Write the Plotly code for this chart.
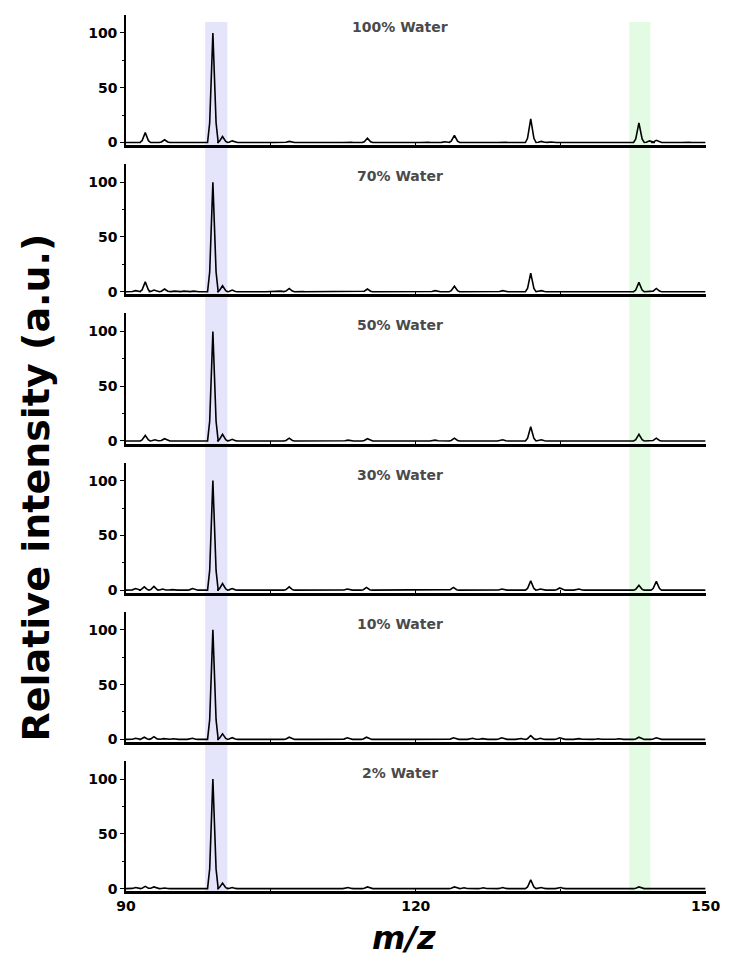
import plotly.graph_objects as go

# m/z window and sample conditions
MZ_RANGE = [90, 150]
panel_labels = ["100% Water", "70% Water", "50% Water", "30% Water", "10% Water", "2% Water"]

# Peak lists (centroid m/z, relative intensity) for each water content
mz_100 = [91.0, 92.0, 94.0, 99.0, 100.0, 101.0, 105.9, 106.9, 113.0, 114.0, 115.0, 121.0, 122.0,
          123.0, 124.0, 129.0, 131.9, 133.0, 134.0, 143.1, 144.2, 144.9, 148.0]
int_100 = [0.5, 9, 2.5, 100, 5.5, 1.5, 0.4, 1, 0.5, 0.5, 4, 0.5, 0.5,
           0.7, 6.5, 0.5, 21.5, 1, 0.5, 18, 1.5, 2, 0.5]

mz_70 = [91.0, 92.0, 92.9, 94.0, 95.0, 96.0, 97.0, 99.0, 100.0, 101.0, 103.0, 105.0, 106.0, 106.9,
         108.0, 109.0, 111.0, 113.0, 114.0, 115.0, 116.0, 117.0, 122.0, 124.0, 129.0, 131.9,
         133.0, 143.1, 144.9, 148.0]
int_70 = [1, 9, 1.5, 2.5, 0.5, 0.5, 0.5, 100, 5.5, 1.5, 0.4, 0.4, 0.5, 3,
          0.5, 0.4, 0.4, 0.5, 0.5, 2.5, 0.4, 0.4, 1, 5, 1, 17,
          1, 8.5, 3, 0.5]

mz_50 = [91.0, 92.0, 93.0, 94.0, 99.0, 100.0, 101.0, 106.9, 113.0, 115.0, 122.0, 124.0, 129.0,
         131.9, 133.0, 143.1, 144.9]
int_50 = [0.5, 5, 1, 2, 100, 6, 1.5, 2.5, 0.7, 2, 0.7, 2.5, 1,
          13, 1, 6, 2.5]

mz_30 = [91.0, 91.9, 92.9, 93.8, 94.8, 96.9, 99.0, 100.0, 101.0, 106.9, 112.9, 114.9, 118.9,
         120.9, 122.9, 123.9, 126.9, 128.9, 131.9, 132.9, 134.9, 136.9, 141.0, 143.1, 144.9]
int_30 = [1.5, 3, 3.5, 1, 0.5, 1.5, 100, 6, 1.5, 3, 1, 2.5, 0.5,
          0.5, 0.5, 2.5, 0.5, 1, 8.5, 1, 2, 1, 0.5, 4.5, 8]

mz_10 = [91.0, 91.9, 92.9, 93.9, 94.9, 96.9, 99.0, 100.0, 101.0, 106.9, 108.9, 110.9, 112.9,
         114.9, 118.9, 120.9, 123.9, 125.9, 126.9, 128.9, 130.9, 131.9, 132.9, 134.9, 136.9,
         138.9, 141.0, 143.1, 144.9]
int_10 = [1, 2, 2.5, 0.7, 0.5, 1, 100, 5, 1.5, 2, 0.5, 0.5, 1.5,
          2, 0.5, 0.5, 1.5, 1, 0.7, 1.5, 0.8, 3.5, 1, 1.5, 0.7,
          0.5, 0.5, 2, 1.5]

mz_2 = [91.0, 92.0, 92.9, 94.0, 99.0, 100.0, 101.0, 113.0, 115.0, 124.0, 125.0, 127.0, 129.0,
        131.9, 133.0, 135.0, 143.1, 145.0]
int_2 = [1, 2, 1.5, 0.5, 100, 5, 1, 1, 1.5, 1.5, 0.8, 0.7, 1,
         8, 1, 1, 1.5, 0.5]

spectra = [(mz_100, int_100), (mz_70, int_70), (mz_50, int_50),
           (mz_30, int_30), (mz_10, int_10), (mz_2, int_2)]

# Highlighted m/z windows
blue_band = [98.2, 100.5]
green_band = [142.1, 144.3]

W, H = 737, 960
FONT = "DejaVu Sans, Arial, sans-serif"

# peak outline: (offset from centroid, fraction of peak height)
PEAK_SHAPE = [(-0.55, 0.0), (-0.33, 0.18), (0.0, 1.0), (0.33, 0.18), (0.55, 0.0)]


def px_x(p):
    return p / W


def px_y(p):
    return 1 - p / H


def profile(mz, inten):
    """Polyline of peaks rising from a flat baseline."""
    xs, ys = [MZ_RANGE[0]], [0.0]
    for m, h in sorted(zip(mz, inten)):
        for dx, f in PEAK_SHAPE:
            xs.append(m + dx)
            ys.append(f * h)
    xs.append(MZ_RANGE[1])
    ys.append(0.0)
    return xs, ys


fig = go.Figure()
n = len(spectra)
layout = {}
for i, (mz, inten) in enumerate(spectra):
    k = "" if i == 0 else str(i + 1)
    xs, ys = profile(mz, inten)
    fig.add_trace(go.Scatter(x=xs, y=ys, mode="lines",
                             line=dict(color="black", width=1.6),
                             xaxis="x" + k, yaxis="y" + k, showlegend=False,
                             hoverinfo="skip"))
    top, bottom = 15 + 150 * i, 146 + 150 * i
    last = i == n - 1
    layout["xaxis" + k] = dict(
        domain=[px_x(120), px_x(720)], range=MZ_RANGE, anchor="y" + k,
        showline=True, linecolor="black", linewidth=2.5,
        ticks="inside", ticklen=3, tickwidth=1.3, tickcolor="black",
        tickvals=[90, 120, 150], showticklabels=last,
        tickfont=dict(family=FONT, size=14, color="black", weight="bold"),
        minor=dict(tickvals=[105, 135], ticks="inside", ticklen=3, tickwidth=1.3,
                   tickcolor="black"),
        showgrid=False, zeroline=False, fixedrange=True,
    )
    if i > 0:
        layout["xaxis" + k]["matches"] = "x"
    layout["yaxis" + k] = dict(
        domain=[px_y(bottom), px_y(top)], range=[-2.5, 116.5], anchor="x" + k,
        showline=True, linecolor="black", linewidth=1.5,
        ticks="outside", ticklen=4, tickwidth=1.3, tickcolor="black",
        tickvals=[0, 50, 100],
        tickfont=dict(family=FONT, size=14, color="black", weight="bold"),
        minor=dict(tickvals=[25, 75], ticks="outside", ticklen=2, tickwidth=1,
                   tickcolor="black"),
        showgrid=False, zeroline=False, fixedrange=True,
    )

annotations = []
for i, lab in enumerate(panel_labels):
    annotations.append(dict(
        text=lab, xref="paper", yref="paper", x=px_x(404), y=px_y(27 + 150 * i),
        xanchor="center", yanchor="middle", showarrow=False,
        font=dict(family=FONT, size=14, color="#4a4a4a", weight="bold"),
    ))
annotations.append(dict(
    text="Relative intensity (a.u.)", xref="paper", yref="paper",
    x=px_x(27), y=px_y(490), textangle=-90, xanchor="center", yanchor="middle",
    showarrow=False, font=dict(family=FONT, size=38, color="black", weight="bold"),
))
annotations.append(dict(
    text="<i>m/z</i>", xref="paper", yref="paper",
    x=px_x(408), y=px_y(943), xanchor="center", yanchor="middle",
    showarrow=False, font=dict(family=FONT, size=32, color="black", weight="bold"),
))

shapes = [
    dict(type="rect", xref="x", yref="paper", x0=blue_band[0], x1=blue_band[1],
         y0=px_y(897), y1=px_y(22), fillcolor="rgb(228,228,250)", line_width=0,
         layer="below"),
    dict(type="rect", xref="x", yref="paper", x0=green_band[0], x1=green_band[1],
         y0=px_y(897), y1=px_y(22), fillcolor="rgb(226,251,226)", line_width=0,
         layer="below"),
]

fig.update_layout(
    width=W, height=H, margin=dict(l=0, r=0, t=0, b=0),
    paper_bgcolor="white", plot_bgcolor="rgba(0,0,0,0)",
    annotations=annotations, shapes=shapes, **layout,
)

fig.write_html("out.html")
